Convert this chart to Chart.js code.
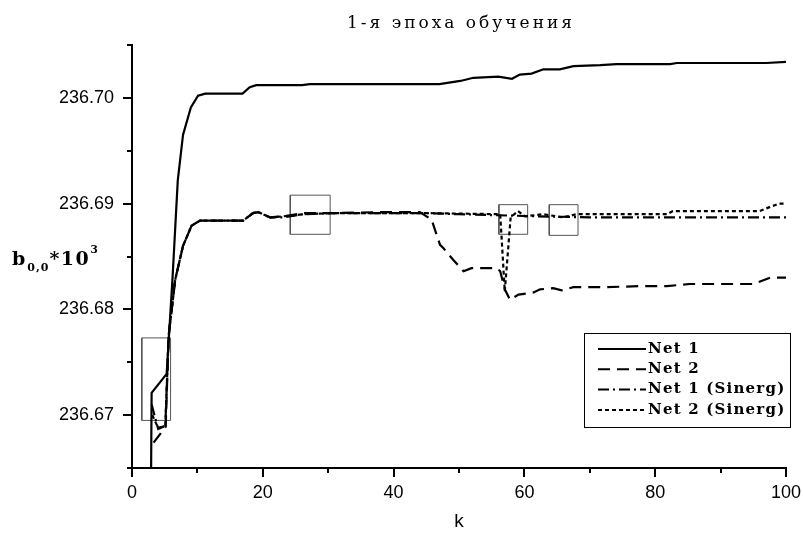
<!DOCTYPE html>
<html lang="ru">
<head>
<meta charset="UTF-8">
<title>1-я эпоха обучения</title>
<script src="https://cdn.jsdelivr.net/npm/chart.js@4.4.0/dist/chart.umd.min.js"></script>
<style>
  html, body { margin: 0; padding: 0; background: #fff; }
  #wrap { width: 803px; height: 534px; }
</style>
</head>
<body>
<div id="wrap"><canvas id="chart" width="803" height="534"></canvas></div>
<script>
// ---- data ----
const titleText = '1-я эпоха обучения';
const xLabel = 'k';
const seriesNames = ['Net 1', 'Net 2', 'Net 1 (Sinerg)', 'Net 2 (Sinerg)'];

const xMajor = [0, 20, 40, 60, 80, 100];
const xMinor = [10, 30, 50, 70, 90];
const yMajor = [236.67, 236.68, 236.69, 236.70];
const yMinor = [236.665, 236.675, 236.685, 236.695, 236.705];

const net1K = [2.9, 3.0, 5.3, 6.2, 7.0, 7.8, 9.0, 10.1, 11.2, 16.9, 18.0, 19.0, 26.0, 27.2, 47.0, 50.2, 52.2, 56.0, 58.1, 59.3, 61.1, 62.9, 65.4, 67.5, 71.6, 74.1, 82.3, 83.3, 97.0, 100];
const net1B = [236.6630, 236.6721, 236.6739, 236.6830, 236.6922, 236.6965, 236.6991, 236.7002, 236.7004, 236.7004, 236.7010, 236.7012, 236.7012, 236.7013, 236.7013, 236.7016, 236.7019, 236.7020, 236.7018, 236.7022, 236.7023, 236.7027, 236.7027, 236.7030, 236.7031, 236.7032, 236.7032, 236.7033, 236.7033, 236.7034];

const net2K = [3.3, 5.15, 5.6, 6.6, 7.8, 9.1, 10.4, 17.0, 18.5, 19.3, 21.1, 23.1, 26.2, 30.7, 38.0, 44.0, 45.8, 47.1, 47.6, 49.1, 50.7, 51.9, 55.8, 56.3, 57.0, 57.8, 59.1, 61.4, 62.4, 64.4, 65.7, 67.5, 72.6, 77.7, 81.8, 85.3, 95.0, 97.6, 100];
const net2B = [236.6674, 236.6689, 236.6775, 236.6828, 236.6860, 236.6879, 236.6884, 236.6884, 236.6891, 236.6892, 236.6887, 236.6888, 236.6891, 236.6891, 236.6892, 236.6892, 236.6885, 236.6861, 236.6858, 236.6847, 236.6836, 236.6839, 236.6839, 236.6836, 236.6819, 236.6809, 236.6814, 236.6816, 236.6819, 236.6820, 236.6818, 236.6821, 236.6821, 236.6822, 236.6822, 236.6824, 236.6824, 236.6830, 236.6830];

const sin1K = [3.0, 4.0, 5.1, 5.6, 6.6, 7.8, 9.1, 10.4, 17.0, 18.5, 19.3, 21.1, 23.1, 26.2, 30.7, 45.0, 50.0, 56.0, 62.0, 70.0, 100];
const sin1B = [236.6710, 236.6687, 236.6690, 236.6775, 236.6828, 236.6860, 236.6879, 236.6884, 236.6884, 236.6891, 236.6892, 236.6887, 236.6887, 236.6890, 236.6891, 236.6891, 236.6890, 236.6889, 236.6888, 236.6887, 236.6887];

const sin2K = [3.1, 4.0, 5.1, 5.6, 6.6, 7.8, 9.1, 10.4, 17.0, 18.5, 19.3, 21.1, 23.1, 26.2, 30.7, 45.0, 56.3, 57.0, 57.9, 59.0, 60.1, 62.9, 65.9, 68.0, 81.8, 82.7, 96.0, 97.6, 99.0, 100];
const sin2B = [236.6700, 236.6688, 236.6690, 236.6775, 236.6828, 236.6860, 236.6879, 236.6884, 236.6884, 236.6891, 236.6892, 236.6887, 236.6888, 236.6890, 236.6891, 236.6891, 236.6890, 236.6817, 236.6887, 236.6893, 236.6888, 236.6890, 236.6887, 236.6890, 236.6890, 236.6893, 236.6893, 236.6897, 236.6900, 236.6900];

// highlight rectangles: [k from, k to], [b from, b to]
const boxK = [[1.5, 5.9], [24.2, 30.3], [56.1, 60.5], [63.8, 68.2]];
const boxB = [[236.6695, 236.6773], [236.6871, 236.6908], [236.6871, 236.6899], [236.6870, 236.6899]];

const dashes = [[], [12, 7], [11, 4, 2, 4], [4, 3]];

// ---- build datasets ----
function pts(ks, bs) { return ks.map((k, i) => ({ x: k, y: bs[i] })); }
const seriesK = [net1K, net2K, sin1K, sin2K];
const seriesB = [net1B, net2B, sin1B, sin2B];

const datasets = seriesNames.map((name, i) => ({
    label: name,
    data: pts(seriesK[i], seriesB[i]),
    borderColor: '#000',
    borderWidth: 2.2,
    borderDash: dashes[i],
    showLine: true,
    pointRadius: 0,
    tension: 0
}));

boxK.forEach((kk, i) => {
    const bb = boxB[i];
    datasets.push({
        label: 'box' + i,
        data: pts([kk[0], kk[1], kk[1], kk[0], kk[0]], [bb[0], bb[0], bb[1], bb[1], bb[0]]),
        borderColor: '#555',
        borderWidth: 1,
        showLine: true,
        pointRadius: 0,
        tension: 0
    });
});

// ---- extra drawing: minor ticks, title, y label, legend ----
const decor = {
    id: 'decor',
    afterDraw(chart) {
        const ctx = chart.ctx;
        const x = chart.scales.x, y = chart.scales.y;
        const area = chart.chartArea;
        ctx.save();

        // minor ticks
        ctx.strokeStyle = '#000';
        ctx.lineWidth = 2;
        ctx.beginPath();
        xMinor.forEach(v => {
            const px = Math.round(x.getPixelForValue(v));
            ctx.moveTo(px, area.bottom);
            ctx.lineTo(px, area.bottom + 5);
        });
        yMinor.forEach(v => {
            const py = Math.round(y.getPixelForValue(v));
            ctx.moveTo(area.left, py);
            ctx.lineTo(area.left - 5, py);
        });
        ctx.stroke();

        // title
        ctx.fillStyle = '#000';
        ctx.font = '17px "DejaVu Serif"';
        ctx.letterSpacing = '3px';
        ctx.textAlign = 'center';
        ctx.textBaseline = 'alphabetic';
        ctx.fillText(titleText, (area.left + area.right) / 2 + 2, 28);

        // y axis label  b_{0,0}*10^3
        ctx.textAlign = 'left';
        ctx.letterSpacing = '2px';
        let cx = 12;
        const base = 265;
        ctx.font = 'bold 19px "DejaVu Serif"';
        ctx.fillText('b', cx, base);
        cx += ctx.measureText('b').width;
        ctx.font = 'bold 11px "DejaVu Serif"';
        ctx.letterSpacing = '1px';
        ctx.fillText('0,0', cx, base + 6);
        cx += ctx.measureText('0,0').width;
        ctx.font = 'bold 19px "DejaVu Serif"';
        ctx.letterSpacing = '1.5px';
        ctx.fillText('*10', cx, base);
        cx += ctx.measureText('*10').width;
        ctx.font = 'bold 11px "DejaVu Serif"';
        ctx.letterSpacing = '0px';
        ctx.fillText('3', cx, base - 12);

        // legend
        const lx = 584.5, ly = 333.5, lw = 206, lh = 94;
        ctx.strokeStyle = '#000';
        ctx.lineWidth = 1;
        ctx.setLineDash([]);
        ctx.strokeRect(lx, ly, lw, lh);
        ctx.font = 'bold 15px "DejaVu Serif"';
        ctx.letterSpacing = '1.2px';
        ctx.textBaseline = 'middle';
        seriesNames.forEach((name, i) => {
            const ry = 349 + i * 20.3;
            ctx.lineWidth = 2;
            ctx.setLineDash(dashes[i]);
            ctx.beginPath();
            ctx.moveTo(598, ry);
            ctx.lineTo(646, ry);
            ctx.stroke();
            ctx.setLineDash([]);
            ctx.fillText(name, 648, ry);
        });
        ctx.restore();
    }
};

new Chart(document.getElementById('chart'), {
    type: 'scatter',
    data: { datasets: datasets },
    options: {
        responsive: false,
        animation: false,
        layout: { padding: { top: 45, right: 17, left: 0, bottom: 0 } },
        plugins: {
            legend: { display: false },
            tooltip: { enabled: false },
            title: { display: false }
        },
        scales: {
            x: {
                type: 'linear',
                min: 0,
                max: 100,
                afterFit: s => { s.height = 66; s.paddingLeft = 0; s.paddingRight = 0; },
                afterBuildTicks: s => { s.ticks = xMajor.map(v => ({ value: v })); },
                border: { display: true, color: '#000', width: 2 },
                grid: { drawOnChartArea: false, tickLength: 9, tickWidth: 2, tickColor: '#000', lineWidth: 2 },
                ticks: {
                    color: '#000',
                    padding: 5,
                    maxRotation: 0,
                    font: { family: 'Liberation Sans', size: 18 },
                    callback: v => String(v)
                },
                title: {
                    display: true,
                    text: xLabel,
                    color: '#000',
                    font: { family: 'Liberation Sans', size: 19 },
                    padding: { top: 0, bottom: 1 }
                }
            },
            y: {
                type: 'linear',
                min: 236.665,
                max: 236.705,
                afterFit: s => { s.width = 132; s.paddingTop = 0; s.paddingBottom = 0; },
                afterBuildTicks: s => { s.ticks = yMajor.map(v => ({ value: v })); },
                border: { display: true, color: '#000', width: 2 },
                grid: { drawOnChartArea: false, tickLength: 9, tickWidth: 2, tickColor: '#000', lineWidth: 2 },
                ticks: {
                    color: '#000',
                    padding: 9,
                    font: { family: 'Liberation Sans', size: 18 },
                    callback: v => v.toFixed(2)
                }
            }
        }
    },
    plugins: [decor]
});
</script>
</body>
</html>
